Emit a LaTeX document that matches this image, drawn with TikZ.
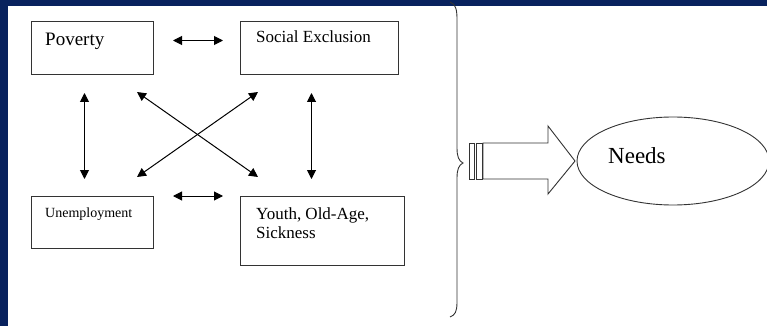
\documentclass[tikz,border=0pt]{standalone}
\usepackage{fontspec}
\setmainfont{Liberation Serif}
\usetikzlibrary{arrows.meta, positioning, shapes.geometric}
\definecolor{navy}{RGB}{8,34,94}

\begin{document}
\begin{tikzpicture}[x=1pt, y=-1pt,
  box/.style={draw=black!80, line width=1pt, minimum height=53pt, inner sep=0pt},
  lbl/.style={anchor=north west, inner sep=0pt, align=left},
  arr/.style={{Triangle[length=9pt,width=9pt]}-{Triangle[length=9pt,width=9pt]}, line width=1pt},
  node distance=86pt
]
\useasboundingbox (0,0) rectangle (767,326);
\clip (0,0) rectangle (767,326);
\fill[navy] (0,0) rectangle (767,6);
\fill[navy] (0,0) rectangle (8,326);

\node[box, minimum width=122pt, anchor=north west,
  label={[lbl, xshift=14pt, yshift=-12pt, font=\fontsize{19}{22}\selectfont]north west:Poverty}]
  (pov) at (31,21) {};
\node[box, minimum width=158pt, right=86pt of pov.north east, anchor=north west,
  label={[lbl, xshift=16pt, yshift=-10pt, font=\fontsize{17}{20}\selectfont]north west:Social Exclusion}]
  (soc) {};
\node[box, minimum width=122pt, minimum height=52pt, below=121pt of pov.south west, anchor=north west,
  label={[lbl, xshift=14pt, yshift=-12pt, font=\fontsize{14}{17}\selectfont]north west:Unemployment}]
  (unemp) {};
\node[box, minimum width=164pt, minimum height=69pt, below=121pt of soc.south west, anchor=north west,
  label={[lbl, xshift=16pt, yshift=-12pt, font=\fontsize{17}{18.5}\selectfont]north west:Youth, Old-Age,\\Sickness}]
  (youth) {};

\draw[arr] ([xshift=19pt, yshift=7.5pt]pov.east) -- ([xshift=-17pt, yshift=7.5pt]soc.west);
\draw[arr] ([xshift=19pt]unemp.north east) -- ([xshift=-17pt]youth.north west);
\draw[arr] ([xshift=-8pt, yshift=-18pt]pov.south) -- ([xshift=-8pt, yshift=17pt]unemp.north);
\draw[arr] ([xshift=-8pt, yshift=-18pt]soc.south) -- ([xshift=-11pt, yshift=17pt]youth.north);
\draw[arr] ([xshift=-17pt, yshift=-17pt]pov.south east) -- ([xshift=18pt, yshift=19pt]youth.north west);
\draw[arr] ([xshift=18pt, yshift=-17pt]soc.south west) -- ([xshift=-17pt, yshift=19pt]unemp.north east);

% brace
\draw[line width=0.9pt, black!80] (450,2) .. controls (456,4) and (457,10) .. (457,20) -- (457,148)
  .. controls (457,157) and (459,161) .. (463,163) .. controls (459,165) and (457,169) .. (457,178)
  -- (457,302) .. controls (457,312) and (455,315) .. (450,317);

% block arrow
\draw[line width=0.9pt, black!80] (469,143) rectangle (474,179);
\draw[line width=0.9pt, black!80] (476,143) rectangle (482,179);
\draw[line width=0.9pt, black!80] (483,143) -- (548,143) -- (548,126) -- (575,161) -- (548,194)
  -- (548,179) -- (483,179) -- cycle;

\node[draw=black!80, ellipse, line width=0.9pt, minimum width=192pt, minimum height=88pt] (needs) at (673,161) {};
\node[anchor=base west, inner sep=0pt, font=\fontsize{23}{26}\selectfont] (needst)
  at ([xshift=-65pt, yshift=-2pt]needs.center) {Needs};
\end{tikzpicture}
\end{document}
